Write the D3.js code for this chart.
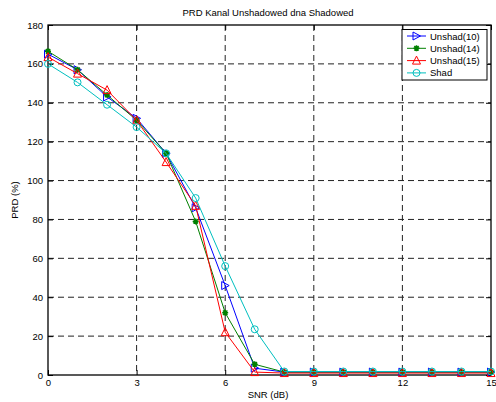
<!DOCTYPE html>
<html>
<head>
<meta charset="utf-8">
<script src="https://cdn.jsdelivr.net/npm/d3@7"></script>
<style>
  body { margin: 0; background: #fff; }
  text { font-family: "Liberation Sans", Arial, sans-serif; }
</style>
</head>
<body>
<svg id="chart" width="496" height="402"></svg>
<script>
// data
const snr = [0, 1, 2, 3, 4, 5, 6, 7, 8, 9, 10, 11, 12, 13, 14, 15];
const unshad10 = [165, 157, 143, 132, 114, 86, 46, 3.5, 1.5, 1.5, 1.5, 1.5, 1.5, 1.5, 1.5, 1.5];
const unshad14 = [166.5, 157, 144, 131, 114, 79, 32, 5.5, 1.5, 1.5, 1.5, 1.5, 1.5, 1.5, 1.5, 1.5];
const unshad15 = [163.5, 155, 146.5, 131, 109.5, 87, 22, 1.5, 1, 1, 1, 1, 1, 1, 1, 1];
const shad = [160, 150.5, 139, 127.5, 114, 91, 56, 23.5, 1.8, 1.8, 1.8, 1.8, 1.8, 1.8, 1.8, 1.8];
const xTicks = [0, 3, 6, 9, 12, 15];
const yTicks = [0, 20, 40, 60, 80, 100, 120, 140, 160, 180];

const series = [
  { name: 'Unshad(10)', values: unshad10, color: '#0000ff', marker: 'tri-right' },
  { name: 'Unshad(14)', values: unshad14, color: '#008000', marker: 'star' },
  { name: 'Unshad(15)', values: unshad15, color: '#ff0000', marker: 'tri-up' },
  { name: 'Shad', values: shad, color: '#00bfbf', marker: 'circle' }
];

const svg = d3.select('#chart');
const plotL = 48, plotR = 491, plotT = 25, plotB = 375;
const fs = '9.5px';

const x = d3.scaleLinear().domain([0, 15]).range([plotL, plotR]);
const y = d3.scaleLinear().domain([0, 180]).range([plotB, plotT]);

// grid
const grid = svg.append('g');
grid.selectAll('.gx').data(xTicks.slice(1, -1)).join('line')
  .attr('x1', d => x(d)).attr('x2', d => x(d))
  .attr('y1', plotT).attr('y2', plotB)
  .attr('stroke', '#222').attr('stroke-width', 1).attr('stroke-dasharray', '6,4');
grid.selectAll('.gy').data(yTicks.slice(1, -1)).join('line')
  .attr('y1', d => y(d)).attr('y2', d => y(d))
  .attr('x1', plotL).attr('x2', plotR)
  .attr('stroke', '#222').attr('stroke-width', 1).attr('stroke-dasharray', '6,4');

// axes
const axisFont = g => g.selectAll('text').style('font-size', fs).attr('fill', '#000');
svg.append('g').attr('transform', `translate(0,${plotB})`)
  .call(d3.axisBottom(x).tickValues(xTicks).tickSize(-5).tickPadding(4))
  .call(g => g.select('.domain').remove())
  .call(axisFont);
svg.append('g').attr('transform', `translate(${plotL},0)`)
  .call(d3.axisLeft(y).tickValues(yTicks).tickSize(-5).tickPadding(5))
  .call(g => g.select('.domain').remove())
  .call(axisFont);
svg.append('g').attr('transform', `translate(0,${plotT})`)
  .call(d3.axisTop(x).tickValues(xTicks).tickSize(-5).tickFormat(''))
  .call(g => g.select('.domain').remove());
svg.append('g').attr('transform', `translate(${plotR},0)`)
  .call(d3.axisRight(y).tickValues(yTicks).tickSize(-5).tickFormat(''))
  .call(g => g.select('.domain').remove());

svg.append('rect')
  .attr('x', plotL).attr('y', plotT)
  .attr('width', plotR - plotL).attr('height', plotB - plotT)
  .attr('fill', 'none').attr('stroke', '#000').attr('stroke-width', 1.3);

// markers
function drawMarker(g, type, color) {
  if (type === 'tri-right') {
    g.append('path').attr('d', 'M-3.5,-4L4,0L-3.5,4Z').attr('fill', 'none').attr('stroke', color);
  } else if (type === 'tri-up') {
    g.append('path').attr('d', 'M0,-4.5L4,3.5L-4,3.5Z').attr('fill', 'none').attr('stroke', color);
  } else if (type === 'circle') {
    g.append('circle').attr('r', 3.5).attr('fill', 'none').attr('stroke', color);
  } else {
    g.append('path').attr('d', 'M-3,0L3,0M0,-3L0,3M-2.2,-2.2L2.2,2.2M-2.2,2.2L2.2,-2.2')
      .attr('stroke', color).attr('stroke-width', 1.5);
  }
}

const line = d3.line().x((d, i) => x(snr[i])).y(d => y(d));
series.forEach(s => {
  const g = svg.append('g');
  g.append('path').datum(s.values).attr('d', line)
    .attr('fill', 'none').attr('stroke', s.color).attr('stroke-width', 1);
  g.selectAll('.m').data(s.values).join('g')
    .attr('transform', (d, i) => `translate(${x(snr[i])},${y(d)})`)
    .each(function() { drawMarker(d3.select(this), s.marker, s.color); });
});

// legend
const lg = svg.append('g');
lg.append('rect').attr('x', 402).attr('y', 29.5).attr('width', 85).attr('height', 50.5)
  .attr('fill', '#fff').attr('stroke', '#000').attr('stroke-width', 1);
series.forEach((s, i) => {
  const yy = 36 + i * 12.3;
  lg.append('line').attr('x1', 407).attr('x2', 426).attr('y1', yy).attr('y2', yy)
    .attr('stroke', s.color);
  drawMarker(lg.append('g').attr('transform', `translate(416.5,${yy})`), s.marker, s.color);
  lg.append('text').attr('x', 430).attr('y', yy + 3.5).text(s.name)
    .style('font-size', fs);
});

// titles
svg.append('text').attr('x', 268).attr('y', 16).attr('text-anchor', 'middle')
  .style('font-size', fs).text('PRD Kanal Unshadowed dna Shadowed');
svg.append('text').attr('x', 268).attr('y', 398).attr('text-anchor', 'middle')
  .style('font-size', fs).text('SNR (dB)');
svg.append('text').attr('transform', 'translate(18,200) rotate(-90)').attr('text-anchor', 'middle')
  .style('font-size', fs).text('PRD (%)');
</script>
</body>
</html>
